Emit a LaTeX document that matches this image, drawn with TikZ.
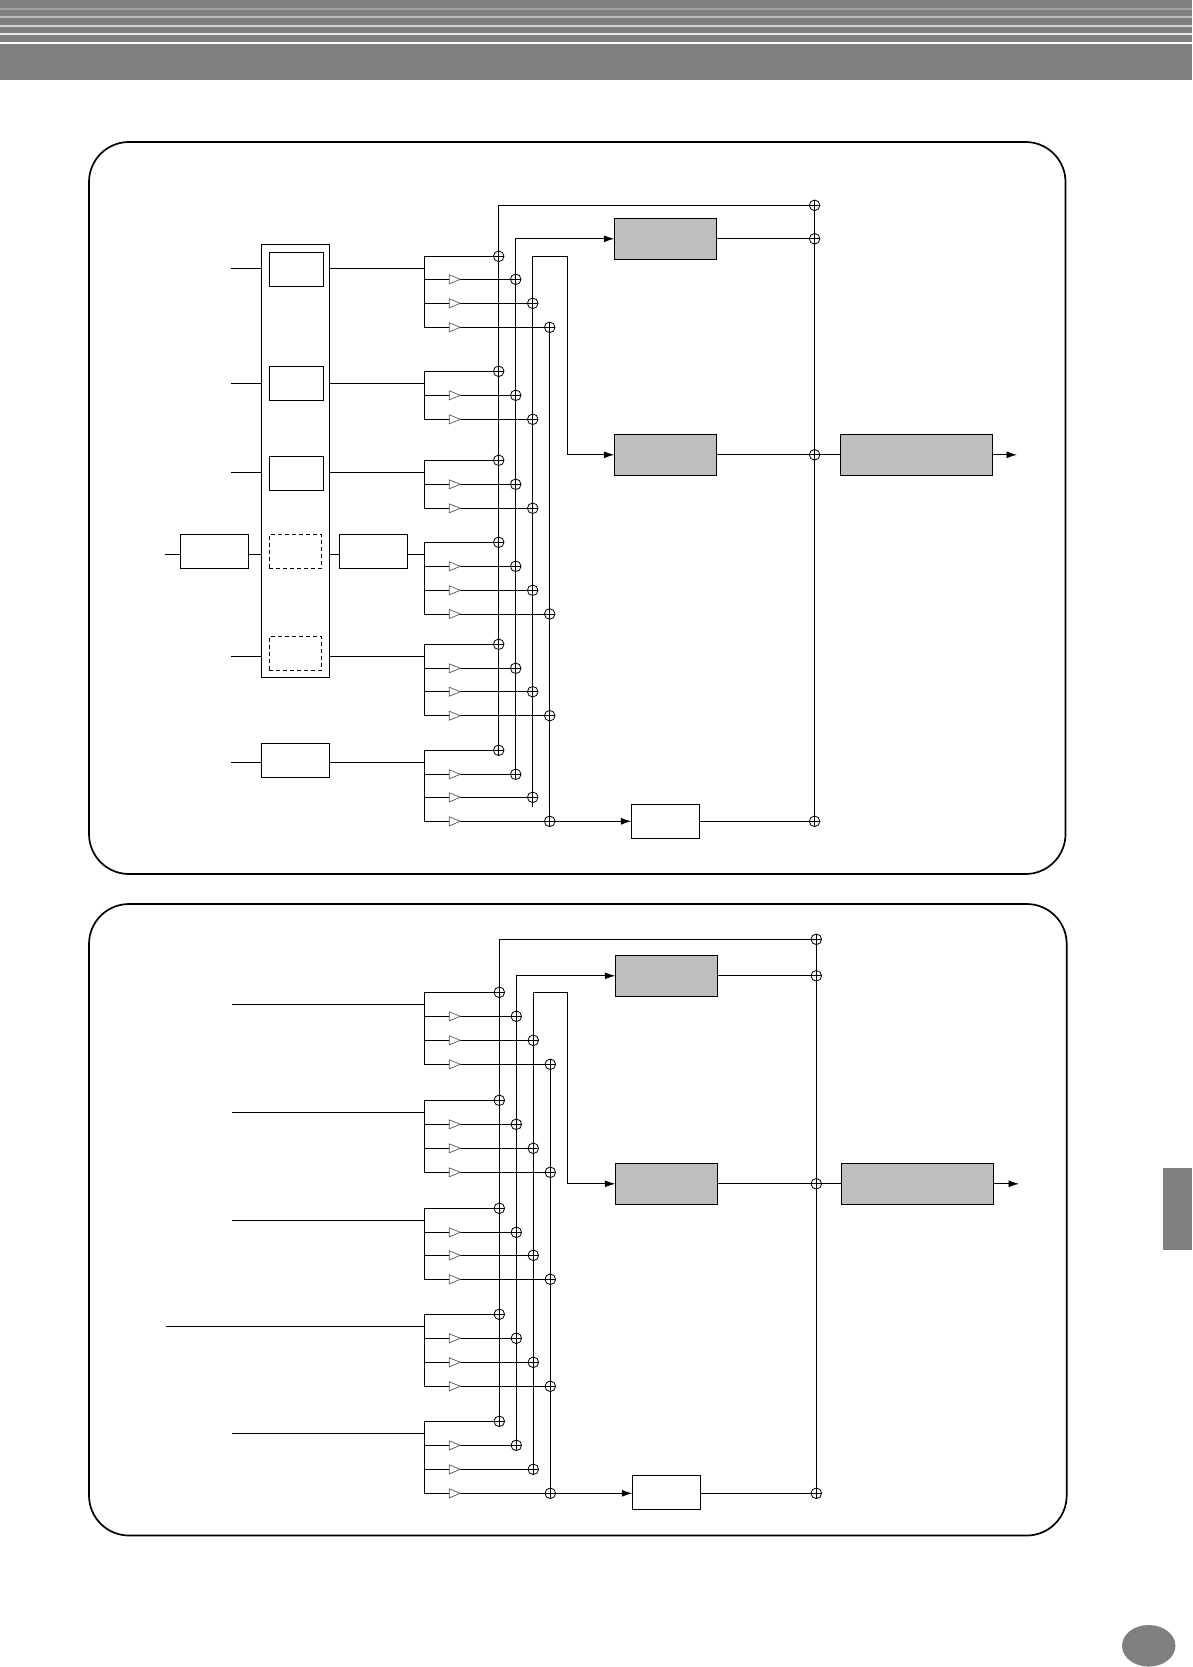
\documentclass[tikz,border=0pt]{standalone}
\usetikzlibrary{shapes.geometric,arrows.meta}
\definecolor{headgray}{HTML}{808080}
\definecolor{boxgray}{HTML}{BEBEBE}
\definecolor{ampgray}{HTML}{5A5A5A}
\tikzset{
  x=1pt,y=-1pt,
  wire/.style={draw=black,line width=0.95pt,line join=miter},
  flow/.style={wire,-{Latex[length=10.5pt,width=7pt]}},
  plain/.style={draw=black,line width=0.95pt,inner sep=0pt,outer sep=0pt,rectangle},
  shaded/.style={plain,fill=boxgray},
  dashbox/.style={plain,dash pattern=on 4pt off 3pt},
  panel/.style={draw=black,line width=1.7pt,inner sep=0pt,outer sep=0pt,rectangle,rounded corners=40pt},
  sumnode/.style={circle,draw=black,line width=0.8pt,inner sep=0pt,outer sep=0pt,minimum size=10.6pt,
    path picture={\draw[black,line width=0.7pt] (path picture bounding box.west)--(path picture bounding box.east)
      (path picture bounding box.north)--(path picture bounding box.south);}},
  ampnode/.style={isosceles triangle,isosceles triangle stretches,shape border rotate=0,
    draw=ampgray,line width=0.7pt,fill=white,inner sep=0pt,outer sep=0pt,
    minimum width=9pt,minimum height=11pt,anchor=lower side},
}
\newcommand{\boxnode}[6]{%
  \pgfmathsetmacro{\myw}{#4-#2}\pgfmathsetmacro{\myh}{#5-#3}%
  \node[#6,minimum width=\myw pt,minimum height=\myh pt] (#1) at ({(#2+#4)/2},{(#3+#5)/2}) {};}
\newcommand{\taprow}[3]{% name, y, bus x
  \node[sumnode] (#1) at (#3,#2) {};
  \draw[wire] (\splitx,#2) -- (#1.center);
  \node[ampnode] (#1a) at (\ampx,#2) {};}
% id, top, in, t2, t3 : three-tap channel (top + two amps)
\newcommand{\chanshort}[5]{%
  \coordinate (#1in) at (\splitx,#3);
  \node[sumnode] (#1t) at (\busA,#2) {};
  \draw[wire] (#1t.center) -- (\splitx,#2) -- (\splitx,#5);
  \taprow{#1s2}{#4}{\busB}
  \taprow{#1s3}{#5}{\busC}}
% id, top, in, t2, t3, t4 : four-tap channel
\newcommand{\chanfull}[6]{%
  \coordinate (#1in) at (\splitx,#3);
  \node[sumnode] (#1t) at (\busA,#2) {};
  \draw[wire] (#1t.center) -- (\splitx,#2) -- (\splitx,#6);
  \taprow{#1s2}{#4}{\busB}
  \taprow{#1s3}{#5}{\busC}
  \taprow{#1s4}{#6}{\busD}}
\begin{document}
\begin{tikzpicture}
\useasboundingbox (0,0) rectangle (1192,1667);
\fill[white] (0,0) rectangle (1192,1667);
% page header and thumbs
\fill[headgray] (0,0) rectangle (1192,80);
\fill[black!37] (0,8) rectangle (1192,10);
\fill[black!27] (0,16) rectangle (1192,18);
\fill[black!17] (0,25) rectangle (1192,27);
\fill[black!9] (0,33) rectangle (1192,35);
\fill[white] (0,42) rectangle (1192,44);
\fill[headgray] (1163,1168) rectangle (1192,1250);
\node[ellipse,fill=headgray,inner sep=0pt,minimum width=53.4pt,minimum height=41.6pt] (pagemark) at (1148.7,1645.8) {};

% ===== upper panel =====
\boxnode{panelA}{89}{142}{1065.5}{874}{panel}
\def\splitx{424.3}\def\ampx{449.3}
\def\busA{498.7}\def\busB{515.7}\def\busC{532.7}\def\busD{549.7}
\boxnode{bank}{261.3}{244.3}{329.3}{677.3}{plain}
\boxnode{bankA}{269.3}{252.3}{323.7}{286.3}{plain}
\boxnode{bankB}{269.3}{366.3}{323.7}{400.3}{plain}
\boxnode{bankC}{269.3}{456.3}{323.7}{490.3}{plain}
\boxnode{bankD}{269.3}{534.3}{321.7}{568.3}{dashbox}
\boxnode{bankE}{269.3}{636.3}{321.7}{670.3}{dashbox}
\boxnode{preL}{180.3}{534.3}{248.7}{568.3}{plain}
\boxnode{preR}{339.3}{534.3}{407.7}{568.3}{plain}
\boxnode{solo}{261.3}{743.3}{329.3}{777.3}{plain}
\boxnode{fxA}{614.3}{218.3}{716.7}{259.3}{shaded}
\boxnode{fxB}{614.3}{434.3}{716.7}{475.3}{shaded}
\boxnode{fxC}{631.3}{804.3}{699.7}{838.3}{plain}
\boxnode{master}{840.3}{434.3}{992.7}{475.3}{shaded}
\chanfull{A1}{256.3}{268.3}{279.3}{303.3}{327.3}
\chanshort{A2}{371.3}{383.3}{395.3}{419.3}
\chanshort{A3}{460.3}{472.3}{484.3}{508.3}
\chanfull{A4}{542.3}{554.3}{566.3}{590.3}{614}
\chanfull{A5}{644.3}{656.3}{668.3}{691.7}{715.7}
\chanfull{A6}{750.3}{762.3}{774.3}{797.3}{821.3}
\node[sumnode] (ra) at (814.6,205.3) {};
\node[sumnode] (rb) at (814.6,238.8) {};
\node[sumnode] (rc) at (814.6,454.8) {};
\node[sumnode] (rd) at (814.6,821.3) {};
\coordinate (inA) at (231,268.3);
\coordinate (inB) at (231,383.3);
\coordinate (inC) at (231,472.3);
\coordinate (inD) at (165,554.3);
\coordinate (inE) at (231,656.3);
\coordinate (inF) at (231,762.3);
\coordinate (tailC) at (\busC,806.7);
\coordinate (masterOut) at (1017,454.8);
\draw[wire] (inA) -- (inA -| bank.west) (inA -| bank.east) -- (A1in);
\draw[wire] (inB) -- (inB -| bank.west) (inB -| bank.east) -- (A2in);
\draw[wire] (inC) -- (inC -| bank.west) (inC -| bank.east) -- (A3in);
\draw[wire] (inD) -- (inD -| preL.west) (inD -| preL.east) -- (inD -| bank.west)
  (inD -| bank.east) -- (inD -| preR.west) (inD -| preR.east) -- (A4in);
\draw[wire] (inE) -- (inE -| bank.west) (inE -| bank.east) -- (A5in);
\draw[wire] (inF) -- (inF -| solo.west) (inF -| solo.east) -- (A6in);
\draw[wire] (A6t.center) -- (A1t.center |- ra.center) -- (ra.center);
\draw[flow] (A6s2.center) -- (A1s2.center |- fxA.west) -- (fxA.west);
\draw[flow] (tailC) -- (A1s3.center |- A1t.center) -- (567.3,256.3) -- (567.3,454.8) -- (fxB.west);
\draw[wire] (A6s4.center) -- (A1s4.center);
\draw[flow] (A6s4.center) -- (fxC.west);
\draw[wire] (ra.center) -- (rd.center);
\draw[wire] (fxA.east) -- (rb.center);
\draw[wire] (fxB.east) -- (rc.center) -- (master.west);
\draw[wire] (fxC.east) -- (rd.center);
\draw[flow] (master.east) -- (masterOut);

% ===== lower panel =====
\boxnode{panelB}{89}{904}{1066.7}{1535.5}{panel}
\def\busA{499.3}\def\busB{516.3}\def\busC{533.3}\def\busD{550.3}
\boxnode{gxA}{615.3}{955.3}{717.7}{996.3}{shaded}
\boxnode{gxB}{615.3}{1163.3}{717.7}{1204.3}{shaded}
\boxnode{gxC}{632.3}{1475.3}{700.7}{1509.7}{plain}
\boxnode{gmaster}{841.3}{1163.3}{993.7}{1204.3}{shaded}
\chanfull{B1}{992.3}{1004.3}{1016.3}{1040.3}{1064.3}
\chanfull{B2}{1100.3}{1112.3}{1124.3}{1148.3}{1172.3}
\chanfull{B3}{1208.3}{1220.3}{1232.3}{1255.3}{1279.3}
\chanfull{B4}{1314.3}{1326.3}{1338.3}{1362.3}{1386.3}
\chanfull{B5}{1421.3}{1433.3}{1445.3}{1469.3}{1493.3}
\node[sumnode] (sa) at (816.3,939.3) {};
\node[sumnode] (sb) at (816.3,975.8) {};
\node[sumnode] (sc) at (816.3,1183.8) {};
\node[sumnode] (sd) at (816.3,1493.3) {};
\coordinate (jnA) at (232,1004.3);
\coordinate (jnB) at (232,1112.3);
\coordinate (jnC) at (232,1220.3);
\coordinate (jnD) at (166,1326.3);
\coordinate (jnE) at (232,1433.3);
\coordinate (gOut) at (1019,1183.8);
\draw[wire] (jnA) -- (B1in);
\draw[wire] (jnB) -- (B2in);
\draw[wire] (jnC) -- (B3in);
\draw[wire] (jnD) -- (B4in);
\draw[wire] (jnE) -- (B5in);
\draw[wire] (B5t.center) -- (B1t.center |- sa.center) -- (sa.center);
\draw[flow] (B5s2.center) -- (B1s2.center |- gxA.west) -- (gxA.west);
\draw[flow] (B5s3.center) -- (B1s3.center |- B1t.center) -- (567.3,992.3) -- (567.3,1183.8) -- (gxB.west);
\draw[wire] (B5s4.center) -- (B1s4.center);
\draw[flow] (B5s4.center) -- (B5s4.center -| gxC.west);
\draw[wire] (sa.center) -- (sd.center);
\draw[wire] (gxA.east) -- (sb.center);
\draw[wire] (gxB.east) -- (sc.center) -- (gmaster.west);
\draw[wire] (sd.center -| gxC.east) -- (sd.center);
\draw[flow] (gmaster.east) -- (gOut);
\end{tikzpicture}
\end{document}
